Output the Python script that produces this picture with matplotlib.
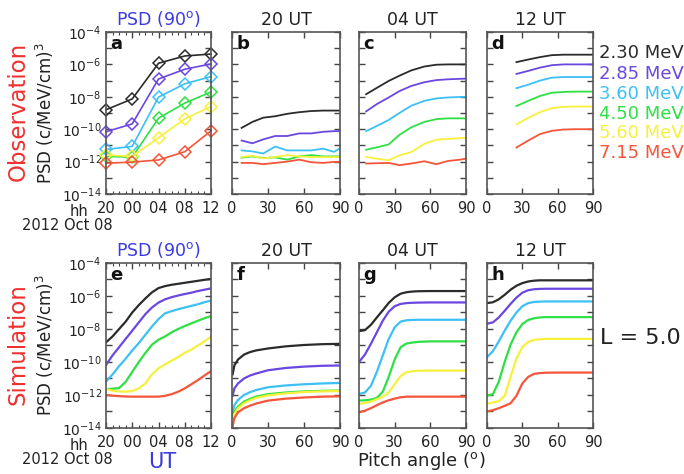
import numpy as np
import matplotlib
matplotlib.use("Agg")
import matplotlib.pyplot as plt
from matplotlib.ticker import FixedLocator, FuncFormatter, MultipleLocator


# --------------------------
# data (values are log10 of PSD)
# --------------------------

energies = ["2.30 MeV", "2.85 MeV", "3.60 MeV", "4.50 MeV", "5.60 MeV", "7.15 MeV"]
colors = ["#2b2b2b", "#6a48e0", "#3cc0f5", "#2ee045", "#f7f03c", "#f5553a"]

time_ticks = [0, 4, 8, 12, 16]
time_labels = ["20", "00", "04", "08", "12"]

# a: observation, 90 deg PSD vs time
obs_t = [0, 4, 8, 12, 16]
obs_time = [
    [-8.80, -8.13, -5.93, -5.48, -5.36],
    [-10.16, -9.67, -6.90, -6.30, -5.97],
    [-11.25, -11.06, -8.02, -7.20, -6.75],
    [-11.68, -11.72, -9.32, -8.39, -7.70],
    [-11.60, -11.68, -10.53, -9.36, -8.60],
    [-12.10, -12.03, -11.90, -11.39, -10.10],
]

# b: observation 20 UT
obs_pa_b = [8, 17, 26, 36, 46, 56, 66, 76, 85, 90]
obs_b = [
    [-9.92, -9.55, -9.29, -9.20, -9.05, -8.95, -8.88, -8.85, -8.85, -8.85],
    [-10.70, -10.87, -10.63, -10.42, -10.42, -10.26, -10.26, -10.16, -10.12, -10.12],
    [-11.31, -11.37, -11.50, -11.07, -11.31, -11.31, -11.31, -11.20, -11.40, -11.18],
    [-11.76, -11.68, -11.78, -11.74, -11.88, -11.68, -11.60, -11.68, -11.68, -11.68],
    [-11.72, -11.64, -11.80, -11.72, -11.60, -11.68, -11.72, -11.72, -11.72, -11.72],
    [-12.08, -12.08, -12.16, -12.08, -12.00, -11.88, -12.04, -12.08, -12.02, -12.02],
]

# c: observation 04 UT
obs_pa_c = [6, 15, 25, 34, 44, 55, 65, 75, 85, 90]
obs_c = [
    [-7.84, -7.45, -7.02, -6.70, -6.37, -6.13, -6.02, -6.00, -6.00, -6.00],
    [-8.90, -8.45, -8.04, -7.65, -7.33, -7.10, -6.97, -6.92, -6.89, -6.88],
    [-10.12, -9.80, -9.43, -9.00, -8.55, -8.25, -8.10, -8.04, -8.01, -8.00],
    [-11.27, -11.12, -10.94, -10.35, -9.88, -9.55, -9.38, -9.33, -9.33, -9.33],
    [-11.71, -11.82, -11.92, -11.62, -11.41, -10.90, -10.65, -10.60, -10.55, -10.53],
    [-12.12, -12.10, -12.08, -12.22, -12.12, -11.98, -12.16, -11.96, -11.88, -11.82],
]

# d: observation 12 UT
obs_pa_d = [25, 35, 45, 55, 65, 75, 85, 90]
obs_d = [
    [-5.86, -5.70, -5.55, -5.43, -5.40, -5.40, -5.40, -5.40],
    [-6.59, -6.40, -6.20, -6.05, -6.00, -6.00, -6.00, -6.00],
    [-7.47, -7.25, -7.00, -6.82, -6.78, -6.78, -6.78, -6.78],
    [-8.57, -8.25, -7.95, -7.75, -7.70, -7.68, -7.68, -7.68],
    [-9.70, -9.30, -8.95, -8.70, -8.62, -8.60, -8.60, -8.60],
    [-11.13, -10.70, -10.30, -10.10, -10.02, -10.00, -10.00, -10.00],
]

# e: simulation, 90 deg PSD vs time
sim_t = [0, 1, 2, 3, 4, 5, 6, 7, 8, 9, 10, 11, 12, 13, 14, 15, 16]
sim_time = [
    [-8.81, -8.45, -8.00, -7.55, -7.00, -6.55, -6.15, -5.78, -5.52, -5.40, -5.32, -5.26, -5.20, -5.14, -5.08, -5.02, -4.97],
    [-10.18, -9.60, -9.10, -8.60, -8.10, -7.60, -7.10, -6.70, -6.40, -6.20, -6.07, -5.97, -5.88, -5.80, -5.70, -5.62, -5.54],
    [-11.19, -10.75, -10.25, -9.80, -9.30, -8.85, -8.35, -7.85, -7.40, -7.05, -6.92, -6.80, -6.70, -6.60, -6.50, -6.38, -6.28],
    [-11.64, -11.62, -11.58, -11.20, -10.60, -10.00, -9.45, -8.95, -8.65, -8.45, -8.20, -8.00, -7.82, -7.66, -7.50, -7.35, -7.21],
    [-11.64, -11.74, -11.79, -11.80, -11.76, -11.60, -11.30, -10.75, -10.38, -10.15, -9.92, -9.70, -9.45, -9.25, -9.00, -8.75, -8.46],
    [-12.00, -12.04, -12.07, -12.09, -12.10, -12.10, -12.10, -12.10, -12.10, -12.05, -11.95, -11.80, -11.60, -11.35, -11.10, -10.82, -10.55],
]

# f: simulation 20 UT
sim_pa_f = [0.5, 2, 5, 10, 15, 20, 30, 45, 60, 75, 90]
sim_f = [
    [-10.75, -10.20, -9.85, -9.55, -9.40, -9.30, -9.18, -9.05, -8.97, -8.92, -8.90],
    [-12.05, -11.60, -11.30, -11.00, -10.82, -10.70, -10.50, -10.36, -10.28, -10.23, -10.21],
    [-13.10, -12.60, -12.30, -12.00, -11.83, -11.70, -11.53, -11.42, -11.35, -11.30, -11.27],
    [-13.40, -13.00, -12.70, -12.40, -12.24, -12.10, -11.95, -11.85, -11.78, -11.75, -11.73],
    [-13.60, -13.15, -12.80, -12.50, -12.32, -12.18, -12.02, -11.90, -11.82, -11.78, -11.76],
    [-13.90, -13.40, -13.05, -12.80, -12.65, -12.52, -12.34, -12.22, -12.15, -12.10, -12.08],
]

# g: simulation 04 UT
sim_pa_g = [0, 5, 10, 15, 20, 25, 30, 35, 40, 45, 50, 60, 75, 90]
sim_g = [
    [-8.13, -8.07, -7.75, -7.30, -6.87, -6.42, -6.08, -5.86, -5.77, -5.73, -5.71, -5.70, -5.70, -5.70],
    [-10.00, -9.55, -8.90, -8.20, -7.50, -6.95, -6.62, -6.48, -6.43, -6.41, -6.40, -6.39, -6.39, -6.39],
    [-11.94, -11.85, -11.45, -10.60, -9.60, -8.60, -7.90, -7.55, -7.47, -7.45, -7.44, -7.44, -7.44, -7.44],
    [-12.34, -12.32, -12.28, -12.18, -11.80, -10.90, -9.85, -9.10, -8.88, -8.82, -8.78, -8.75, -8.75, -8.75],
    [-12.54, -12.48, -12.40, -12.26, -12.10, -11.85, -11.35, -10.85, -10.62, -10.56, -10.53, -10.52, -10.52, -10.52],
    [-13.05, -12.95, -12.80, -12.62, -12.45, -12.32, -12.22, -12.14, -12.10, -12.10, -12.10, -12.10, -12.10, -12.10],
]

# h: simulation 12 UT
sim_pa_h = [0, 5, 10, 15, 20, 25, 30, 35, 40, 45, 50, 60, 75, 90]
sim_h = [
    [-6.43, -6.38, -6.20, -5.93, -5.62, -5.38, -5.22, -5.12, -5.07, -5.05, -5.05, -5.05, -5.05, -5.05],
    [-7.68, -7.60, -7.30, -6.90, -6.48, -6.10, -5.80, -5.65, -5.59, -5.57, -5.56, -5.56, -5.56, -5.56],
    [-9.71, -9.35, -8.75, -8.10, -7.50, -7.00, -6.62, -6.43, -6.36, -6.34, -6.33, -6.33, -6.33, -6.33],
    [-12.04, -11.95, -11.20, -10.00, -8.95, -8.20, -7.70, -7.45, -7.35, -7.30, -7.28, -7.28, -7.28, -7.28],
    [-12.54, -12.45, -12.38, -12.05, -10.90, -9.80, -9.10, -8.78, -8.66, -8.62, -8.60, -8.60, -8.60, -8.60],
    [-13.00, -12.92, -12.80, -12.66, -12.50, -12.05, -11.30, -10.90, -10.72, -10.67, -10.65, -10.64, -10.64, -10.64],
]

W, H = 684, 474


def box(x0, x1, y0, y1):
    return [x0 / W, 1 - y1 / H, (x1 - x0) / W, (y1 - y0) / H]


def ftext(x, y, s, **kw):
    fig.text(x / W, 1 - y / H, s, **kw)


def ylab(v, pos):
    e = int(round(np.log10(v)))
    if e % 2 == 0:
        return r"$10^{%d}$" % e
    return ""


def setup(ax, letter, title, time_axis=False, ylabels=False, title_color="#222222"):
    ax.set_yscale("log")
    ax.set_ylim(1e-14, 1e-4)
    ax.yaxis.set_major_locator(FixedLocator([10.0 ** e for e in range(-14, -3)]))
    ax.yaxis.set_minor_locator(FixedLocator([]))
    if ylabels:
        ax.yaxis.set_major_formatter(FuncFormatter(ylab))
    else:
        ax.set_yticklabels([])
    if time_axis:
        ax.set_xlim(0, 16)
        ax.set_xticks(time_ticks)
        ax.set_xticklabels(time_labels)
        ax.xaxis.set_minor_locator(MultipleLocator(1))
    else:
        ax.set_xlim(0, 90)
        ax.set_xticks([0, 30, 60, 90])
    ax.tick_params(which="both", direction="in", top=True, right=True,
                   colors="#444444", labelcolor="#222222")
    ax.tick_params(axis="x", pad=5, labelsize=10.5)
    ax.tick_params(axis="y", pad=3, labelsize=10)
    ax.tick_params(which="major", length=4, width=1)
    ax.tick_params(which="minor", length=2, width=0.8)
    for s in ax.spines.values():
        s.set_color("#555555")
        s.set_linewidth(1.2)
    ax.text(0.04, 0.98, letter, transform=ax.transAxes, ha="left", va="top",
            fontsize=13, fontweight="bold", color="#111111")
    ax.set_title(title, fontsize=12.5, color=title_color, pad=5)


fig = plt.figure(figsize=(6.84, 4.74), dpi=100)

blue = "#3a3ae0"
cols_x = [(106, 211), (232, 340), (359, 466), (487, 593)]
top_y = (32, 194)
bot_y = (263, 428)

# ---- observation row ----
ax = fig.add_axes(box(*cols_x[0], *top_y))
setup(ax, "a", r"PSD (90$^{\rm o}$)", time_axis=True, ylabels=True, title_color=blue)
for v, c in zip(obs_time, colors):
    ax.plot(obs_t, 10.0 ** np.array(v), color=c, lw=1.2, marker="D", ms=6,
            mfc="none", mec=c, mew=1.1, clip_on=False)

for i, (pa, data, letter, title) in enumerate([(obs_pa_b, obs_b, "b", "20 UT"),
                                                 (obs_pa_c, obs_c, "c", "04 UT"),
                                                 (obs_pa_d, obs_d, "d", "12 UT")]):
    ax = fig.add_axes(box(*cols_x[i + 1], *top_y))
    setup(ax, letter, title)
    for v, c in zip(data, colors):
        ax.plot(pa, 10.0 ** np.array(v), color=c, lw=1.3)

# ---- simulation row ----
ax = fig.add_axes(box(*cols_x[0], *bot_y))
setup(ax, "e", r"PSD (90$^{\rm o}$)", time_axis=True, ylabels=True, title_color=blue)
for v, c in zip(sim_time, colors):
    ax.plot(sim_t, 10.0 ** np.array(v), color=c, lw=1.6)

for i, (pa, data, letter, title) in enumerate([(sim_pa_f, sim_f, "f", "20 UT"),
                                                 (sim_pa_g, sim_g, "g", "04 UT"),
                                                 (sim_pa_h, sim_h, "h", "12 UT")]):
    ax = fig.add_axes(box(*cols_x[i + 1], *bot_y))
    setup(ax, letter, title)
    for v, c in zip(data, colors):
        ax.plot(pa, 10.0 ** np.array(v), color=c, lw=1.6)

# ---- labels ----
red = "#f03030"
ftext(18, 111, "Observation", rotation=90, ha="center", va="center", fontsize=16.5, color=red)
ftext(18, 344, "Simulation", rotation=90, ha="center", va="center", fontsize=16.5, color=red)
psd_lab = r"PSD (c/MeV/cm)$^3$"
ftext(45, 113, psd_lab, rotation=90, ha="center", va="center", fontsize=12, color="#222222")
ftext(45, 345, psd_lab, rotation=90, ha="center", va="center", fontsize=12, color="#222222")

for y_hh, y_date in [(211, 225), (445, 459)]:
    ftext(88, y_hh, "hh", ha="right", va="center", fontsize=10.5, color="#222222")
    ftext(113, y_date, "2012 Oct 08", ha="right", va="center", fontsize=10.5, color="#222222")

ftext(162, 462, "UT", ha="center", va="center", fontsize=15, color=blue)
ftext(421, 461, r"Pitch angle ($^{\rm o}$)", ha="center", va="center", fontsize=13, color="#222222")

legend_y = [53, 74, 94, 114, 133, 153]
for name, c, y in zip(energies, colors, legend_y):
    ftext(599, y, name, ha="left", va="center", fontsize=13, color=c)

ftext(600, 338, "L = 5.0", ha="left", va="center", fontsize=16, color="#222222")

fig.savefig("out.png", dpi=100)
